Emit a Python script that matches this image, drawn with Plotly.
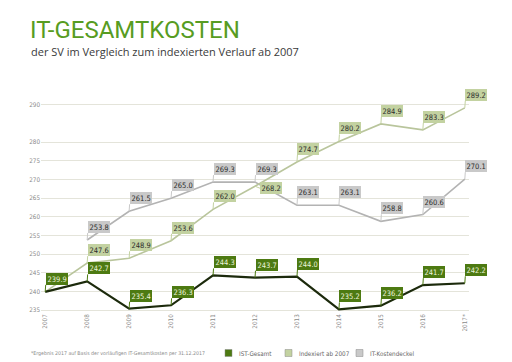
import plotly.graph_objects as go

years = [2007, 2008, 2009, 2010, 2011, 2012, 2013, 2014, 2015, 2016, 2017]
year_labels = ["2007", "2008", "2009", "2010", "2011", "2012", "2013", "2014", "2015", "2016", "2017*"]
ist = [239.9, 242.7, 235.4, 236.3, 244.3, 243.7, 244.0, 235.2, 236.2, 241.7, 242.2]
indexiert = [239.9, 247.6, 248.9, 253.6, 262.0, 268.2, 274.7, 280.2, 284.9, 283.3, 289.2]
deckel_years = [2008, 2009, 2010, 2011, 2012, 2013, 2014, 2015, 2016, 2017]
deckel = [253.8, 261.5, 265.0, 269.3, 269.3, 263.1, 263.1, 258.8, 260.6, 270.1]
y_ticks = [235, 240, 245, 250, 255, 260, 265, 270, 275, 280, 290]
legend_names = ["IST-Gesamt", "Indexiert ab 2007", "IT-Kostendeckel"]

W, H = 512, 362
ML, MR, MT, MB = 33, 51, 95, 58

C_IST_LINE = "#1c2a0c"
C_IST_BOX = "#4d7a12"
C_IDX_LINE = "#b9c59c"
C_IDX_BOX = "#c3d2a1"
C_DK_LINE = "#b3b3b3"
C_DK_BOX = "#c9c9c9"
LABEL_FONT = "DejaVu Sans Condensed, Liberation Sans Narrow, Roboto, sans-serif"

fig = go.Figure()
fig.add_trace(go.Scatter(x=deckel_years, y=deckel, mode="lines", name=legend_names[2],
                         line=dict(color=C_DK_LINE, width=1.6), showlegend=False, hoverinfo="skip"))
fig.add_trace(go.Scatter(x=years, y=indexiert, mode="lines", name=legend_names[1],
                         line=dict(color=C_IDX_LINE, width=1.6), showlegend=False, hoverinfo="skip"))
fig.add_trace(go.Scatter(x=years, y=ist, mode="lines", name=legend_names[0],
                         line=dict(color=C_IST_LINE, width=2.2), showlegend=False, hoverinfo="skip"))

def add_labels(xs, ys, box, txtcol, special=None):
    special = special or {}
    for xv, yv in zip(xs, ys):
        if xv in special:
            ax, ay, ya = special[xv]
        else:
            ax, ay, ya = 0.5, -7, "bottom"
        fig.add_annotation(x=xv, y=yv, text=f"{yv:.1f}", showarrow=True, arrowhead=0,
                           arrowwidth=1, arrowcolor=box, ax=ax, ay=ay,
                           xanchor="left", yanchor=ya,
                           bgcolor=box, bordercolor=box, borderwidth=0, borderpad=1.5,
                           font=dict(family=LABEL_FONT, size=7.5, color=txtcol))

add_labels(deckel_years, deckel, C_DK_BOX, "#2b2b2b")
add_labels(years[1:], indexiert[1:], C_IDX_BOX, "#2b2b2b", special={2012: (5, 2, "middle")})
add_labels(years, ist, C_IST_BOX, "#eef4dc")

pw = W - ML - MR
ph = H - MT - MB
def px(x):
    return (x - ML) / pw
def py(y):
    return (H - MB - y) / ph

fig.add_annotation(xref="paper", yref="paper", x=px(20), y=py(6), xanchor="left", yanchor="top",
                   text="IT-GESAMTKOSTEN", showarrow=False,
                   font=dict(family="Roboto, Open Sans, sans-serif", size=24, color="#579c22"))
fig.add_annotation(xref="paper", yref="paper", x=px(21), y=py(34), xanchor="left", yanchor="top",
                   text="der SV im Vergleich zum indexierten Verlauf ab 2007", showarrow=False,
                   font=dict(family="Open Sans, sans-serif", size=11, color="#3a3a3a"))
fig.add_annotation(xref="paper", yref="paper", x=px(21), y=py(345), xanchor="left", yanchor="middle",
                   text="*Ergebnis 2017 auf Basis der vorläufigen IT-Gesamtkosten per 31.12.2017",
                   showarrow=False, font=dict(family=LABEL_FONT, size=5.2, color="#8a8a8a"))

# legend (manual, squares like reference)
legend_cols = [C_IST_BOX, C_IDX_BOX, C_DK_BOX]
legend_x = [217, 277, 348]
for name, col, lx in zip(legend_names, legend_cols, legend_x):
    fig.add_shape(type="rect", xref="paper", yref="paper",
                  x0=px(lx), x1=px(lx + 7), y0=py(348.5), y1=py(341.5),
                  fillcolor=col, line=dict(color="#8a8a8a", width=0.5))
    fig.add_annotation(xref="paper", yref="paper", x=px(lx + 12), y=py(345), xanchor="left",
                       yanchor="middle", text=name, showarrow=False,
                       font=dict(family=LABEL_FONT, size=6.3, color="#666666"))

fig.update_layout(
    width=W, height=H, margin=dict(l=ML, r=MR, t=MT, b=MB),
    paper_bgcolor="white", plot_bgcolor="white",
    showlegend=False,
    xaxis=dict(range=[2006.9, 2017.1], tickvals=years, ticktext=year_labels, tickangle=-90,
               showgrid=False, zeroline=False, showline=False, ticks="",
               tickfont=dict(family=LABEL_FONT, size=6.3, color="#8a8a8a")),
    yaxis=dict(range=[234.5, 290.5], tickvals=y_ticks, ticktext=[str(v) for v in y_ticks],
               showgrid=True, gridcolor="#e4e4da", gridwidth=1, zeroline=False, showline=False,
               ticks="", tickfont=dict(family=LABEL_FONT, size=6.3, color="#8a8a8a")),
)

fig.write_html("out.html")
